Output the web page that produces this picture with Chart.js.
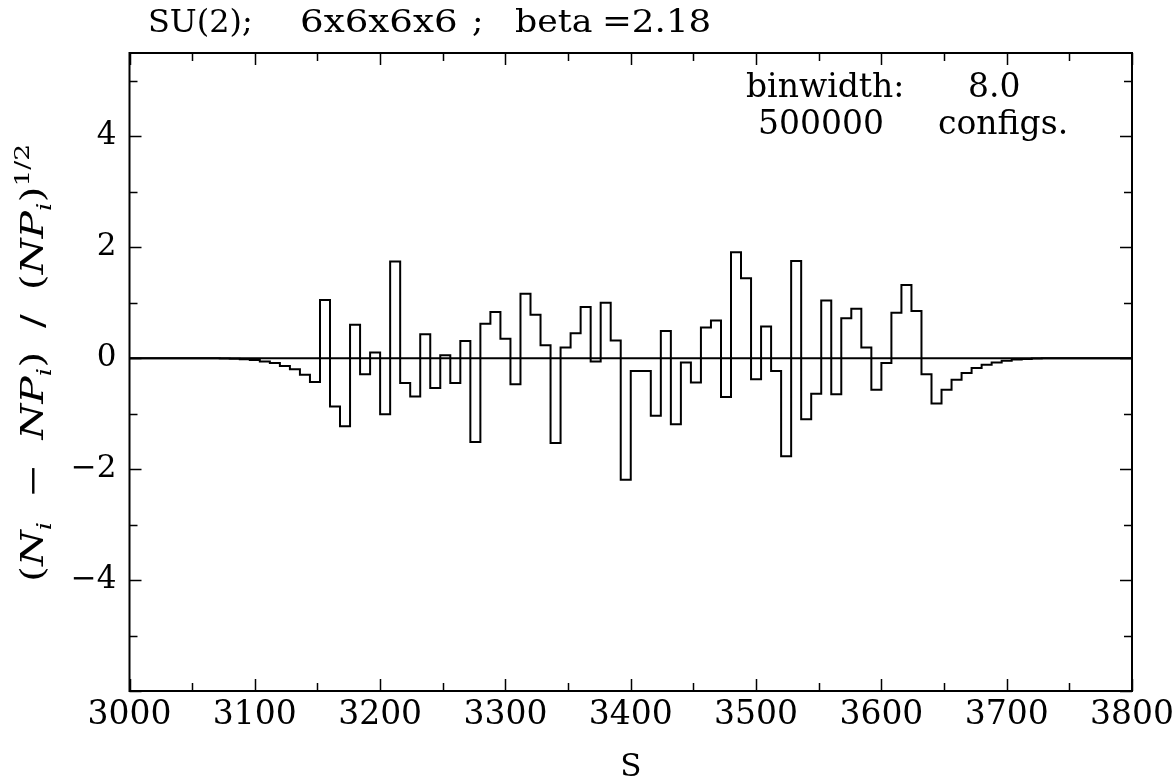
<!DOCTYPE html>
<html><head><meta charset="utf-8">
<script src="https://cdn.jsdelivr.net/npm/chart.js@4.4.0/dist/chart.umd.min.js"></script>
<style>html,body{margin:0;padding:0;background:#fff;}canvas{display:block;}</style>
</head><body>
<canvas id="c" width="1176" height="781"></canvas>
<script>
// ---- data ----
const binStart = 3000;
const binWidth = 8;
const values = [
  0, 0, 0, 0, 0, 0, 0, 0, -0.003, -0.006,
  -0.012, -0.02, -0.035, -0.06, -0.09, -0.14, -0.2, -0.3, -0.43, 1.05,
  -0.87, -1.23, 0.60, -0.29, 0.10, -1.01, 1.74, -0.45, -0.69, 0.43,
  -0.54, 0.05, -0.45, 0.31, -1.51, 0.62, 0.83, 0.35, -0.47, 1.16,
  0.78, 0.23, -1.53, 0.19, 0.45, 0.92, -0.06, 1.00, 0.32, -2.19,
  -0.23, -0.23, -1.04, 0.49, -1.19, -0.08, -0.44, 0.55, 0.68, -0.70,
  1.91, 1.44, -0.38, 0.57, -0.23, -1.77, 1.75, -1.10, -0.64, 1.04,
  -0.65, 0.72, 0.89, 0.19, -0.57, -0.09, 0.82, 1.32, 0.85, -0.29,
  -0.82, -0.57, -0.39, -0.27, -0.18, -0.12, -0.08, -0.045, -0.025, -0.015,
  -0.008, -0.004, -0.002, 0, 0, 0, 0, 0, 0, 0
];
const xTickLabels = [3000, 3100, 3200, 3300, 3400, 3500, 3600, 3700, 3800];
const yTickLabels = [-4, -2, 0, 2, 4];
const xMin = 3000, xMax = 3800, yMin = -6, yMax = 5.5;
const titleParts = ['SU(2);', '6x6x6x6', ';', 'beta', '=2.18'];
const infoLine1 = ['binwidth:', '8.0'];
const infoLine2 = ['500000', 'configs.'];

// bin edges (categories)
const edges = values.map((_, i) => binStart + i * binWidth);
const histPoints = edges.map((e, i) => ({x: e, y: values[i]}));
histPoints.push({x: binStart + values.length * binWidth, y: values[values.length - 1]});

const SERIF = '"DejaVu Serif", serif';

function stretchText(ctx, text, x, y, sx) {
  ctx.save();
  ctx.translate(x, y);
  ctx.scale(sx, 1);
  ctx.fillText(text, 0, 0);
  ctx.restore();
}

const decor = {
  id: 'decor',
  afterDraw(chart) {
    const {ctx, chartArea: a, scales: {x, y}} = chart;
    ctx.save();
    ctx.strokeStyle = '#000';
    ctx.lineWidth = 1.5;
    ctx.beginPath();
    for (let v = xMin; v <= xMax; v += 50) {
      const px = Math.round(x.getPixelForValue(v)) + 0.5;
      const L = (v % 100 === 0) ? 12 : 8;
      ctx.moveTo(px, a.bottom); ctx.lineTo(px, a.bottom - L);
      ctx.moveTo(px, a.top); ctx.lineTo(px, a.top + L);
    }
    for (let v = -6; v <= 5; v += 1) {
      const py = Math.round(y.getPixelForValue(v)) + 0.5;
      const L = (v % 2 === 0) ? 12 : 8;
      ctx.moveTo(a.left, py); ctx.lineTo(a.left + L, py);
      ctx.moveTo(a.right, py); ctx.lineTo(a.right - L, py);
    }
    ctx.stroke();
    ctx.lineWidth = 2;
    ctx.strokeRect(a.left, a.top, a.right - a.left, a.bottom - a.top);

    ctx.fillStyle = '#000';
    ctx.textBaseline = 'alphabetic';
    ctx.textAlign = 'left';
    // title, pieces placed as in the reference
    ctx.font = '31px ' + SERIF;
    const tx = [148, 300, 472, 515, 602];
    const ts = [1.03, 1.2, 1.1, 1.12, 1.15];
    titleParts.forEach((t, i) => stretchText(ctx, t, tx[i], 32, ts[i]));

    ctx.font = '33px ' + SERIF;
    ctx.fillText(infoLine1[0], 746, 97);
    ctx.fillText(infoLine1[1], 968, 97);
    ctx.fillText(infoLine2[0], 758, 134);
    ctx.fillText(infoLine2[1], 938, 134);

    // y axis title with sub/superscripts
    const segs = [
      {t: '(', s: 'n'}, {t: 'N', s: 'i'}, {t: 'i', s: 'i', sub: true},
      {t: '\u2212', s: 'n'}, {t: 'NP', s: 'i'}, {t: 'i', s: 'i', sub: true},
      {t: ')', s: 'n'}, {t: '/', s: 'n'}, {t: '(', s: 'n'}, {t: 'NP', s: 'i'}, {t: 'i', s: 'i', sub: true},
      {t: ')', s: 'n'}, {t: '1/2', s: 'n', sup: true}
    ];
    const gapsAfter = [0, 0, 1, 1, 0, 0, 1, 1, 0, 0, 0, 0, 0];
    const fs = 31, fsS = 20, sx = 1.32;
    const fontOf = g => (g.s === 'i' ? 'italic ' : '') + ((g.sub || g.sup) ? fsS : fs) + 'px ' + SERIF;
    let natural = 0;
    segs.forEach(g => { ctx.font = fontOf(g); g.w = ctx.measureText(g.t).width * sx; natural += g.w; });
    const targetLen = 438;
    const nGaps = gapsAfter.reduce((p, c) => p + c, 0);
    const gap = Math.max(0, (targetLen - natural) / nGaps);
    ctx.translate(43, 582);
    ctx.rotate(-Math.PI / 2);
    let cx = 0;
    segs.forEach((g, i) => {
      ctx.font = fontOf(g);
      const dy = g.sub ? 8 : (g.sup ? -14 : 0);
      stretchText(ctx, g.t, cx, dy, sx);
      cx += g.w + gapsAfter[i] * gap;
    });
    ctx.restore();
  }
};

new Chart(document.getElementById('c'), {
  type: 'line',
  data: {
    datasets: [
      {data: histPoints, stepped: true, borderColor: '#000', borderWidth: 2, pointRadius: 0, fill: false},
      {data: [{x: xMin, y: 0}, {x: xMax, y: 0}], borderColor: '#000', borderWidth: 2, pointRadius: 0, fill: false}
    ]
  },
  options: {
    responsive: false,
    animation: false,
    layout: {padding: {left: 0, right: 44, top: 53, bottom: 0}},
    plugins: {legend: {display: false}, tooltip: {enabled: false}, title: {display: false}},
    scales: {
      x: {
        type: 'linear', min: xMin, max: xMax,
        afterBuildTicks: s => { s.ticks = xTickLabels.map(v => ({value: v})); },
        afterFit: s => { s.height = 90; s.paddingLeft = 0; s.paddingRight = 0; },
        grid: {display: false, drawTicks: false},
        border: {display: false},
        ticks: {color: '#000', font: {family: SERIF, size: 33}, padding: 5, maxRotation: 0, autoSkip: false,
                callback: v => String(v)},
        title: {display: true, text: 'S', color: '#000', font: {family: SERIF, size: 31}, padding: {top: 0, bottom: -6}}
      },
      y: {
        type: 'linear', min: yMin, max: yMax,
        afterBuildTicks: s => { s.ticks = yTickLabels.map(v => ({value: v})); },
        afterFit: s => { s.width = 129.5; },
        grid: {display: false, drawTicks: false},
        border: {display: false},
        ticks: {color: '#000', font: {family: SERIF, size: 31}, padding: 13,
                callback: v => (v < 0 ? '\u2212' + Math.abs(v) : String(v))}
      }
    }
  },
  plugins: [decor]
});
</script>
</body></html>
